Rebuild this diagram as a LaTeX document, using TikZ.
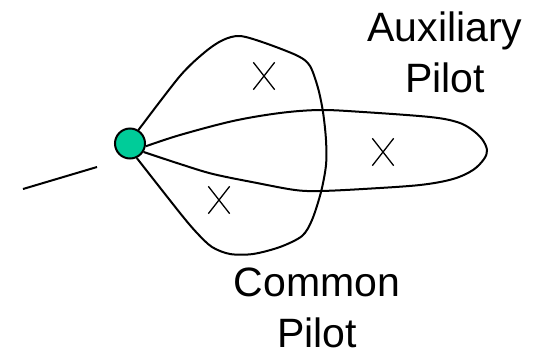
\documentclass[tikz,border=0pt]{standalone}
\usepackage{fontspec}
\setmainfont{Liberation Sans}
\usepackage{xcolor}
\usetikzlibrary{shapes.misc}
\definecolor{feedgreen}{HTML}{00CC99}

\begin{document}
\begin{tikzpicture}[x=1pt,y=-1pt,
  lobe/.style={line width=2pt,line join=round},
  feedpt/.style={circle,draw,line width=2pt,fill=feedgreen,minimum size=30pt,inner sep=0pt},
  nullmark/.style={cross out,draw,line width=1.3pt,minimum width=20pt,minimum height=26pt,inner sep=0pt},
  lbl/.style={align=center,anchor=base,inner sep=0pt,font=\fontsize{41}{51}\selectfont}]
  \useasboundingbox (0,0) rectangle (537,351);
  \node[feedpt] (feed) at (130,143.5) {};
  % common pilot lobe
  \draw[lobe] plot[smooth,tension=0.5] coordinates {(feed.58) (180,76) (205,52) (223,40)
    (240,36) (265,43) (298,56) (310,66) (318,88) (323,112) (326,140) (326,165) (321,192) (312,220)
    (302,236) (280,247) (253,254) (230,254) (212,247) (197,233) (180,213) (feed.-65)};
  % auxiliary pilot lobe
  \draw[lobe] plot[smooth,tension=0.55] coordinates {(feed.-10) (180,135) (233,121) (280,113)
    (320,110) (363,112) (430,117) (457,122) (471,129) (482,139) (487,150) (484,159) (473,170)
    (453,179) (420,185) (363,189) (320,191) (295,190) (257,183) (213,174) (180,164) (feed.-32)};
  \coordinate (wa) at (23,189);
  \coordinate (wb) at (97,167);
  \draw[lobe] (wa) -- (wb);
  \foreach \p/\n in {{(264,76)}/xa,{(219,200)}/xb,{(383,152)}/xc}
    \node[nullmark] (\n) at \p {};
  \node[lbl] (aux) at (445,92) {Auxiliary\\Pilot};
  \node[lbl] (com) at (317,347) {Common\\Pilot};
\end{tikzpicture}
\end{document}
